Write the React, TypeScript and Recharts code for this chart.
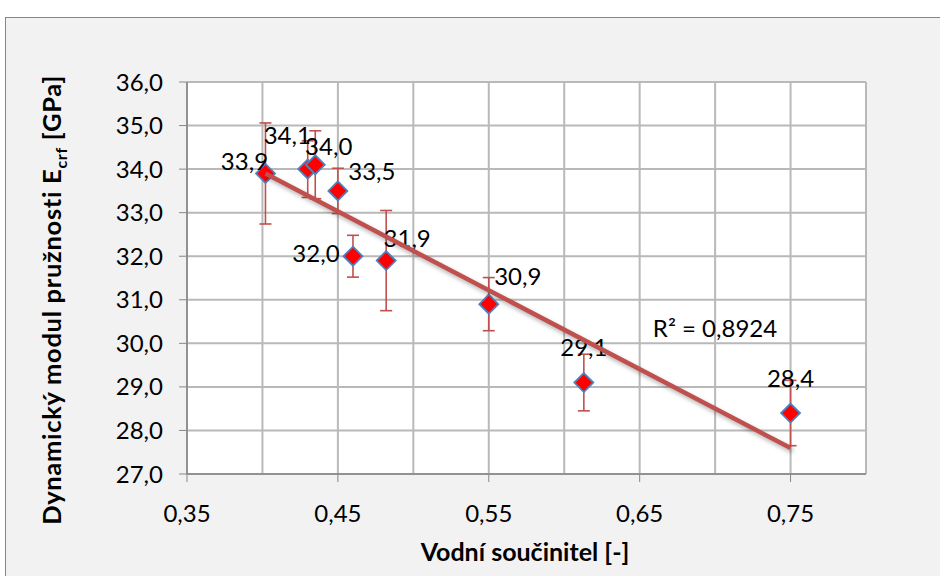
import React from "react";
import { ScatterChart, Scatter, XAxis, YAxis, CartesianGrid, ErrorBar } from "recharts";

// vodní součinitel a dynamický modul
const waterRatio = [0.402, 0.43, 0.435, 0.45, 0.46, 0.482, 0.55, 0.613, 0.75];
const modulus = [33.9, 34.0, 34.1, 33.5, 32.0, 31.9, 30.9, 29.1, 28.4];
const modulusSd = [1.16, 0.65, 0.78, 0.52, 0.48, 1.15, 0.61, 0.65, 0.75];
const xTicks = [0.35, 0.4, 0.45, 0.5, 0.55, 0.6, 0.65, 0.7, 0.75, 0.8];
const yTicks = [27, 28, 29, 30, 31, 32, 33, 34, 35, 36];
const rSquaredText = "R² = 0,8924";

// ručně posunuté popisky (dx, dy v px)
const labelShift = [
  [-21, -12],
  [21, -23],
  [-28, -29],
  [34, -20],
  [-37, -3],
  [21, -22],
  [29, -28],
  [0, -35],
  [0, -35],
];

const FONT = "Lato, 'Open Sans', sans-serif";
const AXIS = "#868686";
const RED = "#c0504d";

const fmt1 = (v: number) => v.toFixed(1).replace(".", ",");
const fmt2 = (v: number) => v.toFixed(2).replace(".", ",");

const points = waterRatio.map((x, i) => ({ x, y: modulus[i], err: modulusSd[i], idx: i }));

// lineární trend (nejmenší čtverce)
function linearFit(xs: number[], ys: number[]) {
  const n = xs.length;
  const mx = xs.reduce((a, b) => a + b, 0) / n;
  const my = ys.reduce((a, b) => a + b, 0) / n;
  let sxy = 0;
  let sxx = 0;
  xs.forEach((x, i) => {
    sxy += (x - mx) * (ys[i] - my);
    sxx += (x - mx) * (x - mx);
  });
  const k = sxy / sxx;
  return (x: number) => my + k * (x - mx);
}
const fit = linearFit(waterRatio, modulus);
const xMin = Math.min(...waterRatio);
const xMax = Math.max(...waterRatio);
const trend = [xMin, xMax].map((x) => ({ x, y: fit(x) }));

const Diamond = (p: any) => {
  const { cx, cy, payload } = p;
  const r = 9.5;
  const [dx, dy] = labelShift[payload.idx] || [0, -30];
  return (
    <g>
      <polygon
        points={`${cx},${cy - r} ${cx + r},${cy} ${cx},${cy + r} ${cx - r},${cy}`}
        fill="#ff0000"
        stroke="#4f81bd"
        strokeWidth={1.8}
      />
      <text x={cx + dx} y={cy + dy} dy="0.36em" textAnchor="middle" fontSize={24} fontFamily={FONT} fill="#000">
        {fmt1(payload.y)}
      </text>
    </g>
  );
};

const XTick = (p: any) => {
  const { x, y, payload } = p;
  const v = payload.value;
  if (Math.round(v * 100) % 10 !== 5) return <g />;
  return (
    <g>
      <line x1={x} x2={x} y1={y - 30} y2={y - 22} stroke={AXIS} />
      <text x={x} y={y + 9} dy="0.36em" textAnchor="middle" fontSize={24} fontFamily={FONT} fill="#000">
        {fmt2(v)}
      </text>
    </g>
  );
};

export default function App() {
  return (
    <div
      style={{
        position: "absolute",
        left: 5,
        top: 17,
        width: 950,
        height: 580,
        border: `1px solid ${AXIS}`,
        background: "#f2f2f2",
        fontFamily: FONT,
      }}
    >
      <ScatterChart width={934} height={558} margin={{ top: 64, right: 74, bottom: 42, left: 91 }}>
        <CartesianGrid stroke="#b9b9b9" strokeWidth={2} fill="#ffffff" />
        <XAxis
          type="number"
          dataKey="x"
          domain={[0.35, 0.8]}
          ticks={xTicks}
          interval={0}
          height={60}
          tickSize={8}
          tickMargin={22}
          tickLine={false}
          axisLine={{ stroke: AXIS, strokeWidth: 1.5 }}
          tick={<XTick />}
          allowDataOverflow
        />
        <YAxis
          type="number"
          dataKey="y"
          domain={[27, 36]}
          ticks={yTicks}
          interval={0}
          width={90}
          tickSize={8}
          tickMargin={16}
          tickLine={{ stroke: AXIS }}
          axisLine={{ stroke: AXIS, strokeWidth: 1.5 }}
          tick={{ fill: "#000", fontSize: 24, fontFamily: FONT }}
          tickFormatter={fmt1}
          allowDataOverflow
        />
        <Scatter data={points} shape={() => <g />} isAnimationActive={false}>
          <ErrorBar dataKey="err" direction="y" width={6} stroke={RED} strokeWidth={1.6} />
        </Scatter>
        <Scatter data={points} shape={<Diamond />} isAnimationActive={false} />
        <Scatter
          data={trend}
          shape={() => <g />}
          line={{
            stroke: RED,
            strokeWidth: 4.5,
            style: { filter: "drop-shadow(2px 3px 2px rgba(0,0,0,0.3))" },
          }}
          isAnimationActive={false}
        />
      </ScatterChart>
      <div
        style={{
          position: "absolute",
          left: 519,
          top: 533,
          transform: "translate(-50%, -50%)",
          fontWeight: 700,
          fontSize: 25,
          whiteSpace: "nowrap",
        }}
      >
        Vodní součinitel [-]
      </div>
      <div
        style={{
          position: "absolute",
          left: 47,
          top: 282,
          transform: "translate(-50%, -50%) rotate(-90deg)",
          fontWeight: 700,
          fontSize: 25.5,
          letterSpacing: 0.7,
          whiteSpace: "nowrap",
        }}
      >
        Dynamický modul pružnosti E<sub style={{ fontSize: 16 }}>crf</sub> [GPa]
      </div>
      <div
        style={{
          position: "absolute",
          left: 709,
          top: 309,
          transform: "translate(-50%, -50%)",
          fontSize: 24,
          whiteSpace: "nowrap",
        }}
      >
        {rSquaredText}
      </div>
    </div>
  );
}
